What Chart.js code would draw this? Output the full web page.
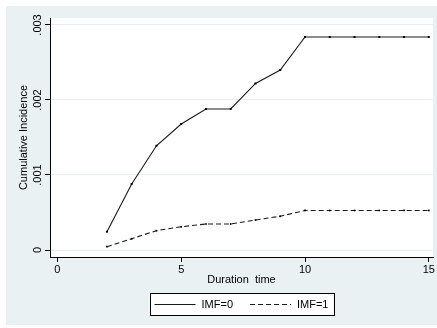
<!DOCTYPE html>
<html>
<head>
<meta charset="utf-8">
<script src="https://cdn.jsdelivr.net/npm/chart.js@4/dist/chart.umd.min.js"></script>
<style>
  html, body { margin: 0; padding: 0; background: #ffffff; }
  #wrap { width: 437px; height: 328px; }
</style>
</head>
<body>
<div id="wrap"><canvas id="incidenceChart" width="437" height="328"></canvas></div>
<script>
// data
const durations = [2, 3, 4, 5, 6, 7, 8, 9, 10, 11, 12, 13, 14, 15];
const imf0 = [0.000244, 0.00088, 0.00139, 0.00168, 0.00188, 0.00188, 0.00222, 0.0024, 0.00284, 0.00284, 0.00284, 0.00284, 0.00284, 0.00284];
const imf1 = [0.000044, 0.00015, 0.000258, 0.00031, 0.000347, 0.000347, 0.0004, 0.00045, 0.000527, 0.000527, 0.000527, 0.000527, 0.000527, 0.000527];
const seriesNames = ["IMF=0", "IMF=1"];
const xTicks = [0, 5, 10, 15];
const yTicks = [0, 0.001, 0.002, 0.003];
const yTickLabels = ["0", ".001", ".002", ".003"];

const FONT = "'Liberation Sans', Arial, sans-serif";
const BG = "#e9f1f3";

// stata-ish backgrounds: gray region, white plot area
const backdrop = {
  id: "backdrop",
  beforeDraw(chart) {
    const { ctx, chartArea: a } = chart;
    ctx.save();
    ctx.fillStyle = "#ffffff";
    ctx.fillRect(0, 0, chart.width, chart.height);
    ctx.fillStyle = BG;
    ctx.fillRect(6, 6, chart.width - 6, chart.height - 9);
    ctx.fillStyle = "#ffffff";
    ctx.fillRect(a.left, a.top, a.right - a.left, a.bottom - a.top);
    ctx.restore();
  },
};

// rotated y tick labels
const yLabels = {
  id: "yLabels",
  afterDraw(chart) {
    const { ctx } = chart;
    const y = chart.scales.y;
    ctx.save();
    ctx.fillStyle = "#000";
    ctx.font = "11px " + FONT;
    ctx.textAlign = "center";
    ctx.textBaseline = "middle";
    yTicks.forEach((v, i) => {
      ctx.save();
      ctx.translate(38, y.getPixelForValue(v));
      ctx.rotate(-Math.PI / 2);
      ctx.fillText(yTickLabels[i], 0, 0);
      ctx.restore();
    });
    ctx.restore();
  },
};

// boxed legend under the axis title
const boxLegend = {
  id: "boxLegend",
  afterDraw(chart) {
    const { ctx, chartArea: a } = chart;
    const sample = 41, gap = 6, between = 17, pad = 5;
    ctx.save();
    ctx.font = "11px " + FONT;
    const items = chart.data.datasets.map((ds) => ({ ds, w: ctx.measureText(ds.label).width }));
    let total = 0;
    items.forEach((it, i) => { total += sample + gap + it.w + (i ? between : 0); });
    const cx = (a.left + a.right) / 2;
    const cy = 304;
    let x = cx - total / 2;
    ctx.fillStyle = "#fff";
    ctx.fillRect(x - pad, cy - 11, total + 2 * pad, 22);
    ctx.strokeStyle = "#000";
    ctx.lineWidth = 1;
    ctx.strokeRect(Math.round(x - pad) + 0.5, cy - 11 + 0.5, Math.round(total + 2 * pad), 22);
    items.forEach((it, i) => {
      if (i) x += between;
      ctx.setLineDash(it.ds.borderDash || []);
      ctx.strokeStyle = it.ds.borderColor;
      ctx.lineWidth = it.ds.borderWidth;
      ctx.beginPath();
      ctx.moveTo(x, cy + 0.5);
      ctx.lineTo(x + sample, cy + 0.5);
      ctx.stroke();
      ctx.setLineDash([]);
      x += sample + gap;
      ctx.fillStyle = "#000";
      ctx.textBaseline = "middle";
      ctx.fillText(it.ds.label, x, cy + 1);
      x += it.w;
    });
    ctx.restore();
  },
};

const ctx = document.getElementById("incidenceChart").getContext("2d");

new Chart(ctx, {
  type: "line",
  data: {
    labels: durations,
    datasets: [
      {
        label: seriesNames[0],
        data: durations.map((d, i) => ({ x: d, y: imf0[i] })),
        borderColor: "#1a1a1a",
        backgroundColor: "#1a1a1a",
        borderWidth: 1.1,
        pointStyle: "rect",
        pointRadius: 1.4,
        pointBackgroundColor: "#000",
        pointBorderWidth: 0,
        tension: 0,
      },
      {
        label: seriesNames[1],
        data: durations.map((d, i) => ({ x: d, y: imf1[i] })),
        borderColor: "#1a1a1a",
        backgroundColor: "#1a1a1a",
        borderWidth: 1.1,
        borderDash: [5, 3],
        pointStyle: "rect",
        pointRadius: 1.2,
        pointBackgroundColor: "#000",
        pointBorderWidth: 0,
        tension: 0,
      },
    ],
  },
  options: {
    responsive: false,
    animation: false,
    layout: { padding: { top: 18, right: 1, left: 0, bottom: 40 } },
    plugins: {
      legend: { display: false },
      tooltip: { enabled: false },
    },
    scales: {
      x: {
        type: "linear",
        min: -0.3,
        max: 15.17,
        afterBuildTicks: (scale) => { scale.ticks = xTicks.map((v) => ({ value: v })); },
        afterFit: (scale) => {
          scale.height = 31;
          scale.paddingLeft = 0;
          scale.paddingRight = 0;
        },
        grid: { drawOnChartArea: false, drawTicks: true, tickLength: 5, tickColor: "#000" },
        border: { display: true, color: "#000", width: 1 },
        ticks: { color: "#000", font: { size: 11, family: FONT }, padding: 1, maxRotation: 0 },
        title: {
          display: true,
          text: "Duration  time",
          color: "#000",
          font: { size: 11, family: FONT },
          padding: { top: 0, bottom: 1 },
        },
      },
      y: {
        min: -0.0000933,
        max: 0.003093,
        afterBuildTicks: (scale) => { scale.ticks = yTicks.map((v) => ({ value: v })); },
        afterFit: (scale) => {
          scale.width = 50;
          scale.paddingTop = 0;
          scale.paddingBottom = 0;
        },
        grid: { color: "#e6eef1", drawTicks: true, tickLength: 5, tickColor: "#000" },
        border: { display: true, color: "#000", width: 1 },
        ticks: { display: false },
        title: {
          display: true,
          text: "Cumulative Incidence",
          color: "#000",
          font: { size: 11, family: FONT },
          padding: { top: 17, bottom: 0 },
        },
      },
    },
  },
  plugins: [backdrop, yLabels, boxLegend],
});
</script>
</body>
</html>
